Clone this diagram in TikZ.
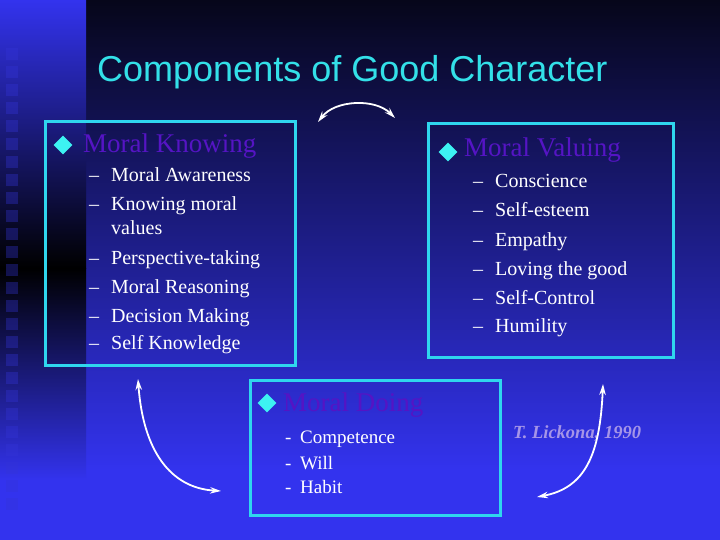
\documentclass[tikz,border=0pt]{standalone}
\usepackage{fontspec}
\setmainfont{Liberation Serif}
\newfontfamily\titlefont{Liberation Sans}
\usetikzlibrary{arrows.meta,shapes.geometric,positioning}
\definecolor{bgtop}{HTML}{06061A}
\definecolor{bgmid}{HTML}{1C1C96}
\definecolor{bgbot}{HTML}{3333EE}
\definecolor{sqblue}{HTML}{3434D8}
\definecolor{boxcyan}{HTML}{2FD6EE}
\definecolor{bulcyan}{HTML}{3DF2F2}
\definecolor{titlecyan}{HTML}{33E0E8}
\definecolor{headpurple}{HTML}{5514C4}
\definecolor{citecolor}{HTML}{A595E8}

\begin{document}
\begin{tikzpicture}[x=1pt,y=-1pt,>={Stealth[length=11pt,width=6.5pt]},
  box/.style={draw=boxcyan,line width=3pt,inner sep=0pt},
  bullet/.style={diamond,fill=bulcyan,inner sep=0pt,minimum size=19pt},
  head/.style={anchor=base west,inner sep=0pt,text=headpurple,font=\fontsize{27}{27}\selectfont},
  item/.style={anchor=base west,inner sep=0pt,text=white,font=\fontsize{20}{23}\selectfont},
  small item/.style={item,font=\fontsize{19}{22}\selectfont},
  cycle arrow/.style={<->,white,line width=1.8pt}]
  \useasboundingbox (0,0) rectangle (720,540);
  % background
  \shade[top color=bgtop,middle color=bgmid,bottom color=bgbot] (86,0) rectangle (720,470);
  \fill[bgbot] (86,470) rectangle (720,540);
  \shade[top color=bgbot,bottom color=black] (0,0) rectangle (86,268);
  \shade[top color=black,bottom color=bgbot] (0,268) rectangle (86,480);
  \fill[bgbot] (0,480) rectangle (86,540);
  \foreach \k in {0,...,25}{
    \fill[sqblue,opacity=.35] (6,{48+18*\k}) rectangle +(12,12);
  }

  \node[anchor=base west,inner sep=0pt,text=titlecyan,font=\titlefont\fontsize{36}{36}\selectfont] (title) at (97,82) {Components of Good Character};

  \node[box,minimum width=250pt,minimum height=243pt] (knowbox) at (170,243.5) {};
  \node[box,minimum width=245pt,minimum height=233pt] (valuebox) at (550.5,240.5) {};
  \node[box,minimum width=250pt,minimum height=135pt] (doebox) at (375,447.5) {};

  \node[bullet] (kbul) at (63,145) {};
  \node[head] (khead) at (83,153) {Moral Knowing};
  \foreach \y/\txt in {182/Moral Awareness,211/Knowing moral,264/Perspective-taking,293/Moral Reasoning,322/Decision Making,349/Self Knowledge}{
    \node[item] (kdash\y) at (89,\y) {--};
    \node[item] (kitem\y) at (111,\y) {\txt};
  }
  \node[item] (kvalues) at (111,234) {values};

  \node[bullet] (vbul) at (448,152) {};
  \node[head] (vhead) at (464,157) {Moral Valuing};
  \foreach \y/\txt in {188/Conscience,217/Self-esteem,246/Empathy,275/Loving the good,304/Self-Control,332/Humility}{
    \node[item] (vdash\y) at (473,\y) {--};
    \node[item] (vitem\y) at (495,\y) {\txt};
  }

  \node[bullet] (dbul) at (267,403) {};
  \node[head] (dhead) at (283,411) {Moral Doing};
  \foreach \y/\txt in {443/Competence,469/Will,493/Habit}{
    \node[small item] (ddash\y) at (285,\y) {-};
    \node[small item] (ditem\y) at (300,\y) {\txt};
  }

  \node[anchor=base west,inner sep=0pt,text=citecolor,font=\fontsize{18.5}{20}\selectfont\bfseries\itshape] (cite) at (513,438) {T. Lickona, 1990};

  \coordinate (topL) at (318,122);
  \coordinate (topR) at (395,118);
  \coordinate (leftT) at (138,379);
  \coordinate (leftB) at (221,491);
  \coordinate (rightT) at (603,384);
  \coordinate (rightB) at (537,497);
  \draw[cycle arrow] (topL) .. controls (335,100) and (375,98) .. (topR);
  \draw[cycle arrow] (leftT) .. controls (143,450) and (170,488) .. (leftB);
  \draw[cycle arrow] (rightT) .. controls (600,455) and (585,488) .. (rightB);
\end{tikzpicture}
\end{document}
